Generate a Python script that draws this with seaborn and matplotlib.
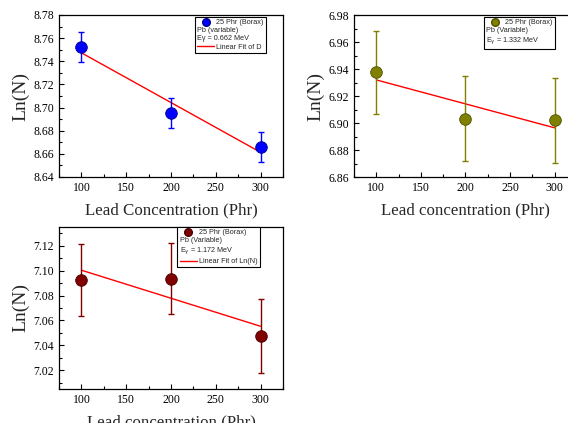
import numpy as np
import pandas as pd
import matplotlib
matplotlib.use("Agg")
import matplotlib.pyplot as plt
from matplotlib.lines import Line2D
from matplotlib.ticker import MultipleLocator, FormatStrFormatter
import seaborn as sns

# ---- data ----
lead = [100, 200, 300]

ln_662 = [8.752, 8.695, 8.666]
err_662 = [0.013, 0.013, 0.013]

ln_1332 = [6.9375, 6.903, 6.902]
err_1332 = [0.031, 0.0315, 0.0315]

ln_1172 = [7.0925, 7.0935, 7.0475]
err_1172 = [0.0287, 0.0287, 0.0295]

xticks = [100, 150, 200, 250, 300]

sns.set_style("ticks")
plt.rcParams["font.family"] = ["Liberation Serif", "DejaVu Serif"]
plt.rcParams["mathtext.fontset"] = "dejavusans"

fig = plt.figure(figsize=(5.68, 4.23), dpi=100)

W, H = 568.0, 423.0
def axes_px(left, top, right, bottom):
    return fig.add_axes([left / W, 1 - bottom / H, (right - left) / W, (bottom - top) / H])

ax1 = axes_px(59, 15, 283, 177)
ax2 = axes_px(354, 15, 577, 177)
ax3 = axes_px(59, 227, 283, 389)

panels = [
    dict(ax=ax1, y=ln_662, e=err_662, color="#0000ff", edge="#00008b",
         ylim=(8.64, 8.78), ystep=0.02, xlabel="Lead Concentration (Phr)",
         labels=["25 Phr (Borax)", "Pb (variable)", "E\u03b3 = 0.662 MeV", "Linear Fit of D"],
         fit_in_legend=True, anchor=(0.924, 0.988)),
    dict(ax=ax2, y=ln_1332, e=err_1332, color="#808000", edge="#4f4f00",
         ylim=(6.86, 6.98), ystep=0.02, xlabel="Lead concentration (Phr)",
         labels=["25 Phr (Borax)", "Pb (Variable)", "E$_\\gamma$ = 1.332 MeV"],
         fit_in_legend=False, anchor=(0.901, 0.988)),
    dict(ax=ax3, y=ln_1172, e=err_1172, color="#800000", edge="#4a0000",
         ylim=(7.005, 7.135), ystep=0.02, xlabel="Lead concentration (Phr)",
         labels=["25 Phr (Borax)", "Pb (Variable)", "E$_\\gamma$ = 1.172 MeV", "Linear Fit of Ln(N)"],
         fit_in_legend=True, anchor=(0.897, 1.0)),
]

for p in panels:
    ax = p["ax"]
    df = pd.DataFrame({"x": lead, "y": p["y"], "e": p["e"]})
    sns.regplot(data=df, x="x", y="y", ax=ax, ci=None, scatter=False,
                color="red", line_kws=dict(lw=1.0, zorder=2))
    ax.errorbar(df["x"], df["y"], yerr=df["e"], fmt="none", ecolor=p["color"],
                elinewidth=1.0, capsize=2, capthick=1.0, zorder=3)
    sns.scatterplot(data=df, x="x", y="y", ax=ax, color=p["color"], s=70,
                    edgecolor=p["edge"], linewidth=0.6, zorder=4, legend=False)
    ax.set_xlim(75, 325)
    ax.set_ylim(*p["ylim"])
    ax.set_xticks(xticks)
    ax.xaxis.set_minor_locator(MultipleLocator(25))
    ax.yaxis.set_major_locator(MultipleLocator(p["ystep"]))
    ax.yaxis.set_minor_locator(MultipleLocator(p["ystep"] / 2))
    ax.yaxis.set_major_formatter(FormatStrFormatter("%.2f"))
    ax.tick_params(which="both", direction="in", top=False, right=False,
                   labelsize=8.5, width=0.8, colors="black")
    ax.tick_params(which="major", length=3.5)
    ax.tick_params(which="minor", length=2)
    for s in ax.spines.values():
        s.set_linewidth(0.9)
        s.set_color("black")
    ax.set_xlabel(p["xlabel"], fontsize=12.2, labelpad=6)
    ax.set_ylabel("Ln(N)", fontsize=14, labelpad=3)

    handles = [Line2D([], [], marker="o", ls="none", color=p["color"],
                      markeredgecolor=p["edge"], markersize=5.5),
               Line2D([], [], ls="none"), Line2D([], [], ls="none")]
    if p["fit_in_legend"]:
        handles.append(Line2D([], [], color="red", lw=1.0))
    leg = ax.legend(handles, p["labels"], loc="upper right", bbox_to_anchor=p["anchor"],
                    borderaxespad=0, fancybox=False, framealpha=1, edgecolor="black",
                    prop=dict(family=["Liberation Sans", "DejaVu Sans"], size=5.2),
                    handlelength=2.4, handletextpad=0.3, labelspacing=0.15,
                    borderpad=0.3)
    leg.get_frame().set_linewidth(0.8)
    try:
        rows = leg._legend_handle_box.get_children()[0].get_children()
        for i in (1, 2):
            rows[i].get_children()[0].width = 0
            rows[i].sep = 0
    except Exception:
        pass

fig.savefig("out.png", dpi=100)
